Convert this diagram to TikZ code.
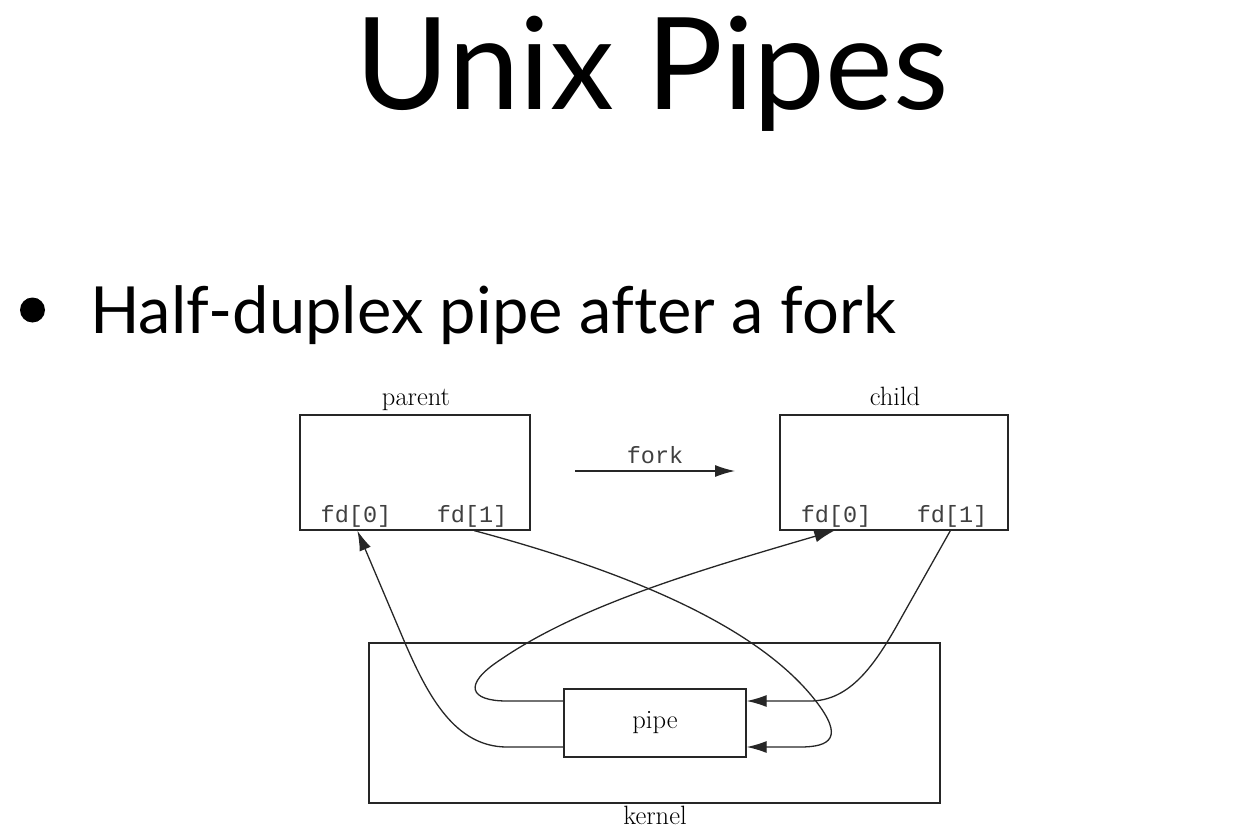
\documentclass[tikz,border=0pt]{standalone}
\usepackage{fontspec}
\newfontfamily\slidefont[Ligatures=NoCommon]{Lato}
\setmonofont{Liberation Mono}
\usetikzlibrary{arrows.meta,calc}
\begin{document}
\begin{tikzpicture}[x=1pt,y=-1pt,
 box/.style={draw=black!85,line width=1.3pt,rectangle,inner sep=0pt},
 lbl/.style={font=\fontsize{26.5}{26.5}\selectfont,inner sep=0pt,anchor=base},
 fdl/.style={font=\ttfamily\fontsize{23.5}{23.5}\selectfont,text=black!75,inner sep=0pt,anchor=base},
 conn/.style={line width=1.3pt,draw=black!85},
 tip/.style={-{Latex[length=20pt,width=12pt]}}
]
\useasboundingbox (0,0) rectangle (1246,834);
% slide texts
\node[anchor=base,inner sep=0pt,font=\slidefont\fontsize{128}{128}\selectfont] (title) at (652,110) {Unix Pipes};
\node[circle,fill,minimum size=25pt,inner sep=0pt] (bul) at (32.5,310) {};
\node[anchor=base west,inner sep=0pt,font=\slidefont\fontsize{65}{65}\selectfont] (sub) at (90,333) {Half-duplex pipe after a fork};
% boxes
\node[box,minimum width=230pt,minimum height=115pt] (parent) at (415,472.5) {};
\node[box,minimum width=228pt,minimum height=115pt] (child) at (894,472.5) {};
\node[box,minimum width=571pt,minimum height=160pt] (kernel) at (654.5,723) {};
\node[box,minimum width=182pt,minimum height=68pt,font=\fontsize{26.5}{26.5}\selectfont] (pipe) at (655,723) {pipe};
% labels
\node[lbl] (parentlbl) at (416,405) {parent};
\node[lbl] (childlbl) at (895,405) {child};
\node[lbl] (kernellbl) at (655,824) {kernel};
\node[fdl] (pfd0) at (356,522) {fd[0]};
\node[fdl] (pfd1) at (472,522) {fd[1]};
\node[fdl] (cfd0) at (836,522) {fd[0]};
\node[fdl] (cfd1) at (952,522) {fd[1]};
\node[fdl] (forklbl) at (655,463) {fork};
% fork arrow
\coordinate (fa) at (575,471);
\coordinate (fb) at (735,471);
\draw[conn,tip] (fa) -- (fb);
% connectors
\draw[conn,tip] ($(pipe.west)+(0,24)$) -- (507,747) .. controls (455,747) and (428,696) .. (405,643) -- ($(parent.south west)+(58,0)$);
\draw[conn,tip] ($(parent.south west)+(175,0)$) .. controls (640,575) and (760,630) .. (815,700) .. controls (845,738) and (830,747) .. (800,747) -- ($(pipe.east)+(0,24)$);
\draw[conn,tip] ($(child.south west)+(171,0)$) -- (900,620) .. controls (875,665) and (850,701) .. (810,701) -- ($(pipe.east)+(0,-22)$);
\draw[conn,tip] ($(pipe.west)+(0,-22)$) -- (507,701) .. controls (470,701) and (462,685) .. (500,660) .. controls (580,605) and (700,570) .. ($(child.south west)+(55,0)$);
\end{tikzpicture}
\end{document}
